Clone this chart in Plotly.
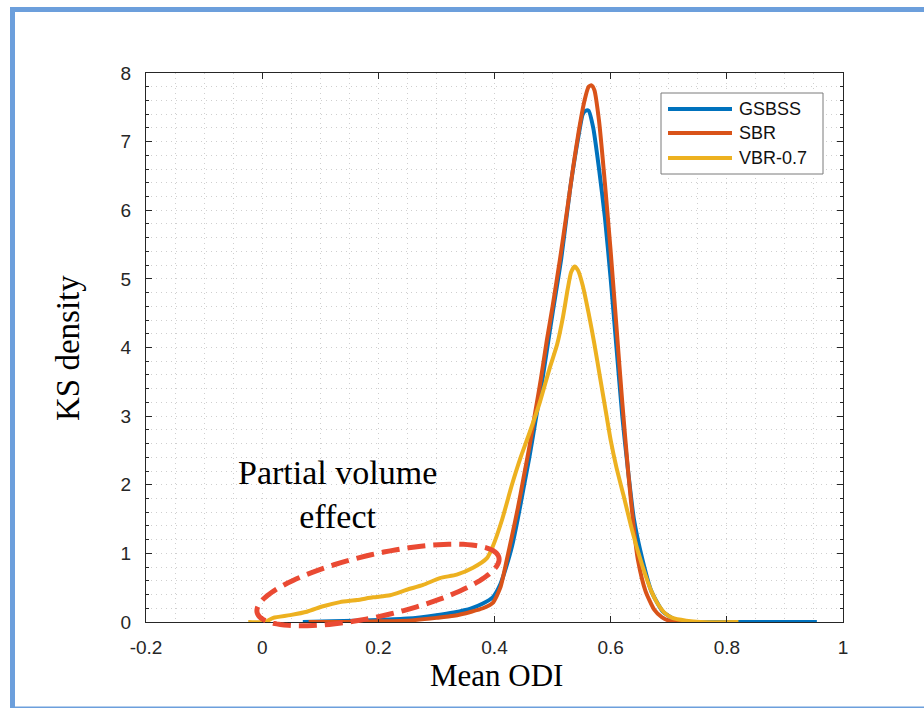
import numpy as np
import plotly.graph_objects as go

# ---- data -------------------------------------------------------------
gsbss_x = [0.07, 0.12, 0.2, 0.25, 0.3, 0.33, 0.36, 0.38, 0.397, 0.41, 0.42, 0.43, 0.44,
           0.45, 0.46, 0.47, 0.48, 0.49, 0.5, 0.515, 0.53, 0.545, 0.552, 0.557, 0.562,
           0.57, 0.58, 0.59, 0.6, 0.61, 0.62, 0.63, 0.64, 0.655, 0.67, 0.69, 0.71, 0.73,
           0.8, 0.9, 0.955]
gsbss_y = [0, 0.01, 0.03, 0.05, 0.1, 0.14, 0.2, 0.27, 0.36, 0.55, 0.8, 1.1, 1.5,
           1.95, 2.4, 2.9, 3.4, 3.95, 4.5, 5.3, 6.3, 7.1, 7.4, 7.45, 7.45,
           7.2, 6.6, 5.9, 5.0, 4.0, 3.0, 2.2, 1.5, 0.9, 0.45, 0.15, 0.04, 0.0,
           0, 0, 0]

sbr_x = [0.08, 0.15, 0.2, 0.25, 0.3, 0.33, 0.36, 0.38, 0.397, 0.41, 0.421, 0.43, 0.44,
         0.45, 0.46, 0.47, 0.48, 0.49, 0.5, 0.513, 0.525, 0.535, 0.545, 0.555, 0.562,
         0.567, 0.572, 0.58, 0.59, 0.6, 0.61, 0.62, 0.63, 0.64, 0.647, 0.66, 0.675,
         0.688, 0.7, 0.711, 0.733]
sbr_y = [0, 0.0, 0.01, 0.02, 0.06, 0.09, 0.15, 0.2, 0.28, 0.5, 0.9, 1.25, 1.65,
         2.1, 2.55, 3.05, 3.55, 4.1, 4.6, 5.3, 6.0, 6.6, 7.15, 7.6, 7.8,
         7.82, 7.75, 7.3, 6.4, 5.4, 4.3, 3.2, 2.2, 1.35, 0.9, 0.45, 0.18,
         0.07, 0.02, 0.0, 0.0]

vbr_x = [-0.024, 0.005, 0.019, 0.048, 0.077, 0.105, 0.134, 0.163, 0.191, 0.22, 0.249,
         0.277, 0.306, 0.335, 0.363, 0.387, 0.397, 0.413, 0.43, 0.445, 0.46, 0.478,
         0.495, 0.508, 0.518, 0.526, 0.532, 0.538, 0.544, 0.552, 0.562, 0.572, 0.582,
         0.592, 0.6, 0.61, 0.622, 0.635, 0.648, 0.66, 0.67, 0.68, 0.692, 0.706, 0.73,
         0.754, 0.82]
vbr_y = [0, 0, 0.06, 0.1, 0.15, 0.23, 0.29, 0.32, 0.36, 0.39, 0.47,
         0.54, 0.64, 0.69, 0.79, 0.93, 1.1, 1.49, 2.0, 2.4, 2.75, 3.2,
         3.7, 4.05, 4.45, 4.85, 5.1, 5.18, 5.12, 4.9, 4.5, 4.05, 3.55,
         3.05, 2.65, 2.25, 1.85, 1.4, 1.0, 0.68, 0.45, 0.28, 0.14, 0.06, 0.02,
         0.0, 0.0]

series_names = ["GSBSS", "SBR", "VBR-0.7"]
series_colors = ["#0072BD", "#D95319", "#EDB120"]

x_ticks = [-0.2, 0, 0.2, 0.4, 0.6, 0.8, 1]
x_tick_labels = ["-0.2", "0", "0.2", "0.4", "0.6", "0.8", "1"]
y_ticks = [0, 1, 2, 3, 4, 5, 6, 7, 8]

# ---- page geometry (pixels) ------------------------------------------
W, H = 924, 708
PL, PR, PT, PB = 146, 843, 73, 622


def fx(px):
    return (px - PL) / (PR - PL)


def fy(py):
    return (PB - py) / (PB - PT)


fig = go.Figure()
for xs, ys, name, col in zip([gsbss_x, sbr_x, vbr_x], [gsbss_y, sbr_y, vbr_y],
                             series_names, series_colors):
    fig.add_trace(go.Scatter(x=xs, y=ys, mode="lines", name=name,
                             line=dict(color=col, width=4, shape="spline", smoothing=0.6)))

axis_common = dict(
    showline=True, linecolor="#262626", linewidth=1, mirror="ticks",
    ticks="inside", ticklen=6, tickcolor="#262626", tickwidth=1,
    tickfont=dict(family="Liberation Sans, Arial", size=19, color="#262626"),
    showgrid=True, gridcolor="#cfcfcf", gridwidth=1, griddash="1px,4px",
    zeroline=False,
)

fig.update_xaxes(range=[-0.2, 1], tickvals=x_ticks, ticktext=x_tick_labels,
                 minor=dict(dtick=0.05, tick0=0, showgrid=True, gridcolor="#cfcfcf",
                            griddash="1px,4px", ticks=""),
                 ticklabelstandoff=8, **axis_common)
fig.update_yaxes(range=[0, 8], tickvals=y_ticks,
                 minor=dict(dtick=0.2, tick0=0, showgrid=True, gridcolor="#cfcfcf",
                            griddash="1px,4px", ticks="inside", ticklen=3,
                            tickcolor="#262626"),
                 ticklabelstandoff=10, **axis_common)

shapes = []

# outer frame
shapes.append(dict(type="rect", xref="paper", yref="paper",
                   x0=fx(12.5), x1=fx(935), y0=fy(9.5), y1=fy(709),
                   line=dict(color="#6C9FDC", width=5), layer="above"))

# dashed ellipse around the low-ODI tail
cx, cy, a, b, th = 378, 585, 124, 31, np.deg2rad(12.8)
t = np.linspace(0, 2 * np.pi, 121)
ex = cx + a * np.cos(t) * np.cos(th) - b * np.sin(t) * np.sin(th)
ey = cy - (a * np.cos(t) * np.sin(th) + b * np.sin(t) * np.cos(th))
path = "M" + " L".join(f"{fx(u):.5f},{fy(v):.5f}" for u, v in zip(ex, ey)) + " Z"
shapes.append(dict(type="path", xref="paper", yref="paper", path=path,
                   line=dict(color="#EA4A33", width=5, dash="18px,8px"), layer="above"))

# legend box
shapes.append(dict(type="rect", xref="paper", yref="paper",
                   x0=fx(661), x1=fx(823), y0=fy(93), y1=fy(174),
                   line=dict(color="#7a7a7a", width=1), fillcolor="white", layer="above"))
legend_rows = [109, 133, 158]
annotations = []
for py, name, col in zip(legend_rows, series_names, series_colors):
    shapes.append(dict(type="line", xref="paper", yref="paper",
                       x0=fx(668), x1=fx(732), y0=fy(py), y1=fy(py),
                       line=dict(color=col, width=4), layer="above"))
    annotations.append(dict(xref="paper", yref="paper", x=fx(737), y=fy(py),
                            text=name, showarrow=False, xanchor="left", yanchor="middle",
                            font=dict(family="Liberation Sans, Arial", size=18, color="#111111")))

# axis titles
annotations.append(dict(xref="paper", yref="paper", x=fx(497), y=fy(675), text="Mean ODI",
                        showarrow=False, xanchor="center", yanchor="middle",
                        font=dict(family="Liberation Serif, Times New Roman", size=31, color="black")))
annotations.append(dict(xref="paper", yref="paper", x=fx(68), y=fy(348), text="KS density",
                        showarrow=False, xanchor="center", yanchor="middle", textangle=-90,
                        font=dict(family="Liberation Serif, Times New Roman", size=33, color="black")))
# callout text
annotations.append(dict(xref="paper", yref="paper", x=fx(337), y=fy(494),
                        text="Partial volume<br>effect", showarrow=False,
                        xanchor="center", yanchor="middle",
                        font=dict(family="Liberation Serif, Times New Roman", size=34, color="black")))

fig.update_layout(
    width=W, height=H, autosize=False,
    margin=dict(l=PL, r=W - PR, t=PT, b=H - PB),
    paper_bgcolor="white", plot_bgcolor="white",
    showlegend=False, shapes=shapes, annotations=annotations,
)

fig.write_html("out.html")
